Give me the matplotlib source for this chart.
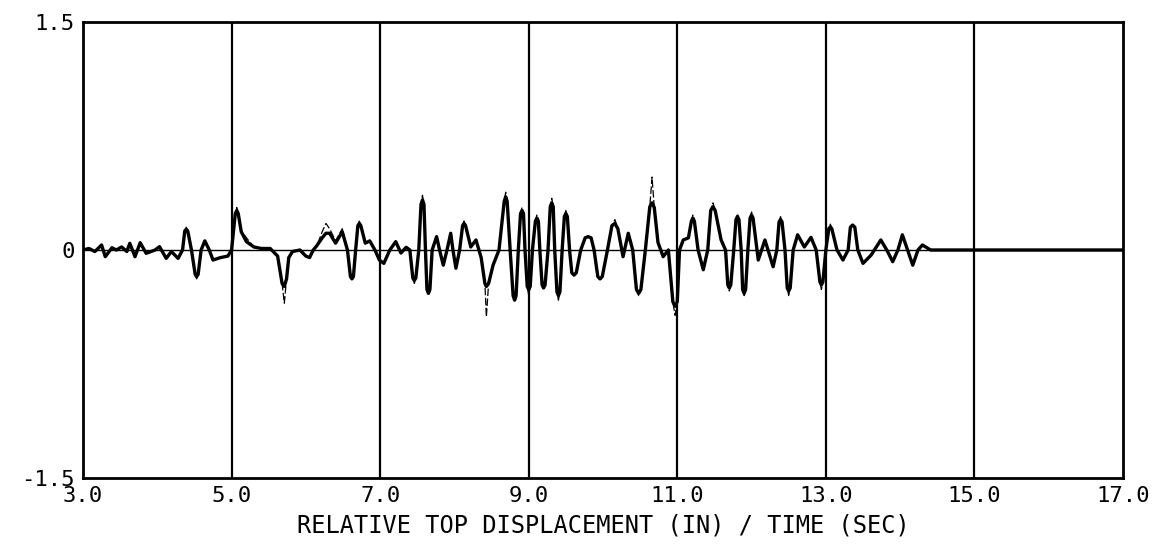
"""
Relative top displacement time history (plotter-style reproduction).
Solid heavy trace + thin dashed trace, gridlines every 2 s.
"""
import numpy as np
import matplotlib
matplotlib.use('Agg')
import matplotlib.pyplot as plt
from matplotlib import rcParams

rcParams['font.family'] = ['DejaVu Sans Mono', 'DejaVu Sans']
rcParams['axes.linewidth'] = 2.0

# time (sec) / displacement (in)
time = [3.00, 3.08, 3.16, 3.25, 3.30, 3.39, 3.45, 3.52, 3.59, 3.63,
        3.70, 3.77, 3.85, 3.97, 4.03, 4.12, 4.19, 4.28, 4.34, 4.37,
        4.39, 4.41, 4.46, 4.51, 4.53, 4.55, 4.59, 4.64, 4.70, 4.75,
        4.85, 4.95, 5.00, 5.05, 5.07, 5.09, 5.13, 5.20, 5.30, 5.40,
        5.52, 5.62, 5.68, 5.71, 5.74, 5.77, 5.82, 5.92, 6.00, 6.05,
        6.10, 6.15, 6.22, 6.27, 6.32, 6.40, 6.49, 6.56, 6.60, 6.62,
        6.64, 6.67, 6.70, 6.72, 6.74, 6.80, 6.86, 6.93, 6.99, 7.05,
        7.13, 7.21, 7.28, 7.35, 7.40, 7.44, 7.46, 7.48, 7.52, 7.55,
        7.57, 7.59, 7.61, 7.63, 7.65, 7.67, 7.70, 7.76, 7.80, 7.85,
        7.90, 7.95, 7.98, 8.02, 8.07, 8.11, 8.13, 8.15, 8.22, 8.29,
        8.36, 8.41, 8.43, 8.46, 8.52, 8.60, 8.67, 8.69, 8.71, 8.75,
        8.79, 8.81, 8.83, 8.86, 8.89, 8.91, 8.93, 8.95, 8.98, 9.00,
        9.02, 9.05, 9.09, 9.11, 9.13, 9.15, 9.18, 9.20, 9.22, 9.26,
        9.29, 9.31, 9.33, 9.35, 9.38, 9.40, 9.42, 9.45, 9.48, 9.50,
        9.52, 9.55, 9.58, 9.61, 9.64, 9.70, 9.76, 9.80, 9.84, 9.88,
        9.93, 9.96, 9.99, 10.06, 10.12, 10.16, 10.20, 10.27, 10.34, 10.40,
        10.45, 10.48, 10.51, 10.57, 10.63, 10.66, 10.69, 10.74, 10.81, 10.88,
        10.94, 10.97, 11.00, 11.03, 11.08, 11.15, 11.19, 11.21, 11.23, 11.28,
        11.35, 11.41, 11.45, 11.48, 11.51, 11.59, 11.65, 11.68, 11.70, 11.72,
        11.76, 11.79, 11.81, 11.83, 11.86, 11.88, 11.90, 11.92, 11.95, 11.98,
        12.00, 12.02, 12.09, 12.18, 12.29, 12.34, 12.37, 12.39, 12.41, 12.45,
        12.48, 12.50, 12.52, 12.56, 12.62, 12.71, 12.80, 12.87, 12.92, 12.94,
        12.96, 13.00, 13.04, 13.06, 13.08, 13.15, 13.23, 13.30, 13.33, 13.36,
        13.39, 13.43, 13.50, 13.61, 13.74, 13.82, 13.90, 13.97, 14.03, 14.10,
        14.17, 14.24, 14.30, 14.41, 17.00]

# heavy solid trace
solid = [0.00, 0.01, -0.01, 0.033, -0.044, 0.015, 0.00, 0.02, -0.01, 0.044,
         -0.044, 0.048, -0.022, 0.00, 0.022, -0.055, -0.01, -0.055, 0.00, 0.125,
         0.136, 0.125, 0.00, -0.16, -0.175, -0.16, 0.00, 0.06, 0.00, -0.066,
         -0.05, -0.04, 0.00, 0.24, 0.26, 0.24, 0.12, 0.055, 0.02, 0.01,
         0.01, -0.04, -0.22, -0.24, -0.19, -0.05, -0.01, 0.00, -0.04, -0.05,
         0.00, 0.03, 0.08, 0.11, 0.11, 0.045, 0.12, 0.00, -0.175, -0.19,
         -0.175, 0.00, 0.16, 0.175, 0.16, 0.045, 0.06, 0.00, -0.066, -0.088,
         0.00, 0.055, -0.02, 0.018, 0.00, -0.185, -0.20, -0.185, 0.00, 0.30,
         0.33, 0.30, 0.00, -0.26, -0.285, -0.26, 0.00, 0.088, 0.00, -0.10,
         0.00, 0.11, 0.00, -0.12, 0.00, 0.16, 0.175, 0.16, 0.02, 0.066,
         -0.05, -0.22, -0.24, -0.22, -0.10, 0.00, 0.32, 0.35, 0.32, 0.00,
         -0.30, -0.33, -0.30, 0.00, 0.24, 0.26, 0.24, 0.00, -0.24, -0.26,
         -0.24, 0.00, 0.19, 0.21, 0.19, 0.00, -0.23, -0.25, -0.23, 0.00,
         0.285, 0.31, 0.285, 0.00, -0.275, -0.30, -0.275, 0.00, 0.22, 0.24,
         0.22, 0.00, -0.15, -0.165, -0.15, 0.00, 0.08, 0.088, 0.08, 0.00,
         -0.175, -0.19, -0.175, 0.00, 0.16, 0.175, 0.14, -0.044, 0.11, 0.00,
         -0.26, -0.285, -0.26, 0.00, 0.285, 0.31, 0.28, 0.05, -0.044, 0.00,
         -0.34, -0.37, -0.34, 0.00, 0.066, 0.08, 0.19, 0.21, 0.19, 0.00,
         -0.13, 0.00, 0.26, 0.285, 0.26, 0.066, 0.00, -0.23, -0.25, -0.23,
         0.00, 0.20, 0.22, 0.20, 0.00, -0.26, -0.285, -0.26, 0.00, 0.21,
         0.23, 0.21, -0.066, 0.066, -0.11, 0.00, 0.185, 0.20, 0.185, 0.00,
         -0.25, -0.27, -0.25, 0.00, 0.10, 0.02, 0.083, 0.00, -0.21, -0.23,
         -0.21, 0.00, 0.14, 0.153, 0.14, 0.00, -0.066, 0.00, 0.15, 0.164,
         0.15, 0.00, -0.088, -0.033, 0.066, 0.00, -0.077, 0.00, 0.10, 0.00,
         -0.10, 0.00, 0.033, 0.00, 0.00]

# thin dashed trace (overshoots the solid one at several peaks)
dashed = [0.00, 0.01, -0.01, 0.033, -0.044, 0.015, 0.00, 0.02, -0.01, 0.044,
          -0.044, 0.048, -0.022, 0.00, 0.022, -0.055, -0.01, -0.055, 0.00, 0.125,
          0.15, 0.125, 0.00, -0.16, -0.19, -0.16, 0.00, 0.06, 0.00, -0.066,
          -0.05, -0.04, 0.00, 0.24, 0.28, 0.24, 0.13, 0.08, 0.02, 0.01,
          0.01, -0.04, -0.22, -0.35, -0.19, -0.05, -0.01, 0.00, -0.04, -0.05,
          0.00, 0.03, 0.12, 0.175, 0.14, 0.06, 0.14, 0.00, -0.175, -0.19,
          -0.175, 0.00, 0.16, 0.19, 0.16, 0.045, 0.06, 0.00, -0.066, -0.088,
          0.00, 0.055, -0.02, 0.018, 0.00, -0.185, -0.22, -0.185, 0.00, 0.30,
          0.36, 0.30, 0.00, -0.26, -0.29, -0.26, 0.00, 0.088, 0.00, -0.10,
          0.00, 0.11, 0.00, -0.12, 0.00, 0.16, 0.19, 0.16, 0.02, 0.066,
          -0.05, -0.22, -0.44, -0.22, -0.10, 0.00, 0.32, 0.38, 0.32, 0.00,
          -0.30, -0.33, -0.30, 0.00, 0.24, 0.28, 0.24, 0.00, -0.24, -0.30,
          -0.24, 0.00, 0.19, 0.23, 0.19, 0.00, -0.23, -0.25, -0.23, 0.00,
          0.285, 0.34, 0.285, 0.00, -0.275, -0.33, -0.275, 0.00, 0.22, 0.26,
          0.22, 0.00, -0.15, -0.165, -0.15, 0.00, 0.08, 0.088, 0.08, 0.00,
          -0.175, -0.20, -0.175, 0.00, 0.16, 0.20, 0.14, -0.044, 0.11, 0.00,
          -0.26, -0.30, -0.26, 0.00, 0.285, 0.48, 0.28, 0.05, -0.044, 0.00,
          -0.34, -0.43, -0.34, 0.00, 0.066, 0.08, 0.19, 0.23, 0.19, 0.00,
          -0.13, 0.00, 0.26, 0.31, 0.26, 0.066, 0.00, -0.23, -0.27, -0.23,
          0.00, 0.20, 0.24, 0.20, 0.00, -0.26, -0.30, -0.26, 0.00, 0.21,
          0.25, 0.21, -0.066, 0.066, -0.11, 0.00, 0.185, 0.22, 0.185, 0.00,
          -0.25, -0.30, -0.25, 0.00, 0.10, 0.02, 0.083, 0.00, -0.21, -0.26,
          -0.21, 0.00, 0.14, 0.17, 0.14, 0.00, -0.066, 0.00, 0.15, 0.164,
          0.15, 0.00, -0.088, -0.033, 0.066, 0.00, -0.077, 0.00, 0.10, 0.00,
          -0.10, 0.00, 0.033, 0.00, 0.00]

x_ticks = [3, 5, 7, 9, 11, 13, 15, 17]
x_ticklabels = ['3.0', '5.0', '7.0', '9.0', '11.0', '13.0', '15.0', '17.0']
y_ticks = [-1.5, 0, 1.5]
y_ticklabels = ['-1.5', '0', '1.5']

fig = plt.figure(figsize=(11.62, 5.51), dpi=100)
ax = fig.add_axes([83 / 1162, 1 - 478 / 551, 1040 / 1162, 456 / 551])

# vertical grid + zero line
for xv in x_ticks[1:-1]:
    ax.axvline(xv, color='black', linewidth=1.6, zorder=1)
ax.axhline(0, color='black', linewidth=1.0, zorder=1)

ax.plot(time, dashed, color='black', linewidth=0.9, linestyle=(0, (6, 2)), zorder=2)
ax.plot(time, solid, color='black', linewidth=2.4, zorder=3,
        solid_joinstyle='round', solid_capstyle='round')

ax.set_xlim(3, 17)
ax.set_ylim(-1.5, 1.5)
ax.set_xticks(x_ticks)
ax.set_xticklabels(x_ticklabels)
ax.set_yticks(y_ticks)
ax.set_yticklabels(y_ticklabels)
ax.tick_params(length=0, labelsize=16, pad=6)
ax.set_xlabel('RELATIVE TOP DISPLACEMENT (IN) / TIME (SEC)', fontsize=17, labelpad=5)

fig.savefig('out.png', dpi=100)
